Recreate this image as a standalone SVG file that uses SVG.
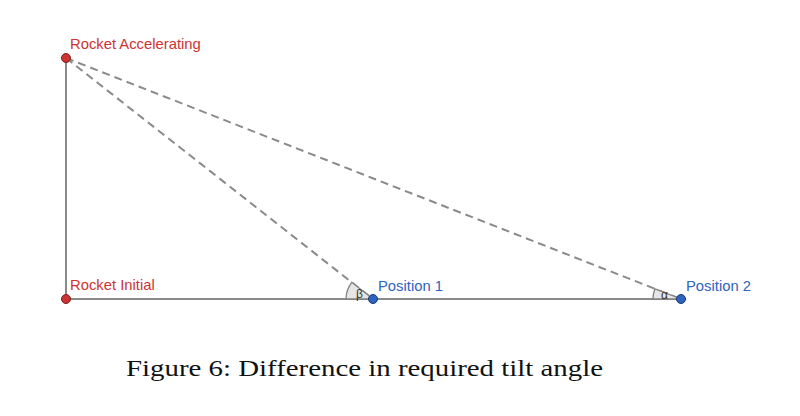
<svg xmlns="http://www.w3.org/2000/svg" width="800" height="416" viewBox="0 0 800 416">
<style>
.solid{stroke:#8a8a8a;stroke-width:2;fill:none}
.dash{stroke:#8a8a8a;stroke-width:2;fill:none;stroke-dasharray:8,5}
.wedge{fill:#e6e6e6;stroke:#808080;stroke-width:1.3}
.lbl{font-family:"Liberation Sans",Arial,sans-serif;font-size:14.8px}
.red{fill:#cc3333}
.blue{fill:#2e63c0}
.ptr{fill:#cc3333;stroke:#7a1f1f;stroke-width:1}
.ptb{fill:#2e63c0;stroke:#1a3a78;stroke-width:1}
.ang{font-family:"Liberation Sans",Arial,sans-serif;font-size:12px;fill:#333}
</style>
<rect width="800" height="416" fill="#ffffff"/>
<g id="connectors">
<line class="solid" x1="66" y1="58" x2="66" y2="299"/>
<line class="solid" x1="66" y1="299" x2="681" y2="299"/>
<line class="dash" x1="66" y1="58" x2="373" y2="299"/>
<line class="dash" x1="66" y1="58" x2="681" y2="299"/>
</g>
<g id="angle-beta">
<path class="wedge" d="M373,299 L346,299 A27,27 0 0 1 351.76,282.33 Z"/>
<text class="ang" x="356" y="298">β</text>
</g>
<g id="angle-alpha">
<path class="wedge" d="M681,299 L653,299 A28,28 0 0 1 654.93,288.78 Z"/>
<text class="ang" x="661" y="299">α</text>
</g>
<g id="rocket-accelerating">
<circle class="ptr" cx="66" cy="58" r="4.5"/>
<text class="lbl red" x="70" y="49">Rocket Accelerating</text>
</g>
<g id="rocket-initial">
<circle class="ptr" cx="66" cy="299" r="4.5"/>
<text class="lbl red" x="70" y="290">Rocket Initial</text>
</g>
<g id="position-1">
<circle class="ptb" cx="373" cy="299" r="4.5"/>
<text class="lbl blue" x="378" y="291">Position 1</text>
</g>
<g id="position-2">
<circle class="ptb" cx="681" cy="299" r="4.5"/>
<text class="lbl blue" x="686" y="291">Position 2</text>
</g>
<text x="126" y="376" font-family="'Liberation Serif','Times New Roman',serif" font-size="24" fill="#111" textLength="477" lengthAdjust="spacingAndGlyphs">Figure 6: Difference in required tilt angle</text>
</svg>
